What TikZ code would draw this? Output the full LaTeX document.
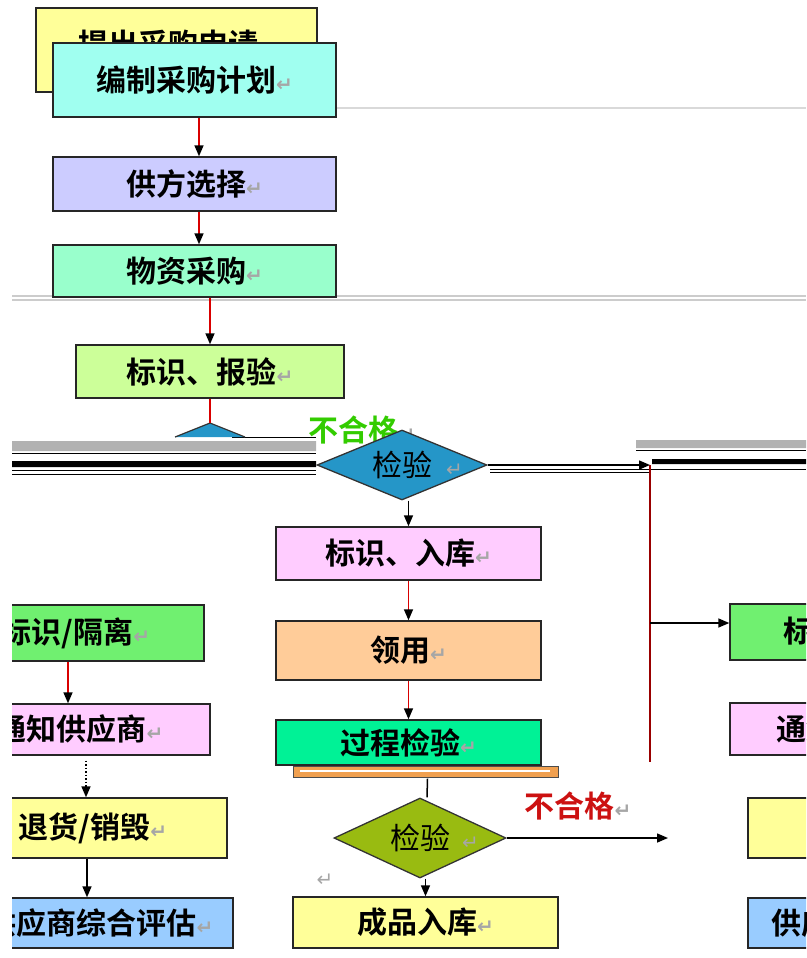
\documentclass[tikz,border=0pt]{standalone}
\usepackage{fontspec}
\newfontfamily\cjk{Noto Sans CJK SC}[BoldFont={Noto Sans CJK SC Bold}]
\newfontfamily\markfont{DejaVu Sans}
\usetikzlibrary{positioning,shapes.geometric,arrows.meta}

\definecolor{reqyellow}{HTML}{FFFF99}
\definecolor{planaqua}{HTML}{A0FFF0}
\definecolor{choosepurple}{HTML}{CCCCFF}
\definecolor{buymint}{HTML}{99FFCC}
\definecolor{reportgreen}{HTML}{CCFF99}
\definecolor{checkblue}{HTML}{2596C8}
\definecolor{stockpink}{HTML}{FFCCFF}
\definecolor{issuepeach}{HTML}{FFCC99}
\definecolor{processgreen}{HTML}{00F296}
\definecolor{recheckolive}{HTML}{99BB11}
\definecolor{isogreen}{HTML}{70F070}
\definecolor{assessblue}{HTML}{99CCFF}
\definecolor{failgreen}{HTML}{33CC00}
\definecolor{failred}{HTML}{CC1111}
\definecolor{striporange}{HTML}{F0A050}

\newcommand{\pmark}{{\markfont\fontsize{20}{20}\selectfont\color{gray!70}↵}}

\begin{document}
\begin{tikzpicture}
[x=1pt, y=-1pt,
box/.style={rectangle, draw=black!85, line width=1.4pt, inner sep=0pt,
  font=\cjk\bfseries\fontsize{30}{34}\selectfont},
chk/.style={diamond, draw=black!80, line width=1.3pt, inner sep=0pt, aspect=2.3,
  font=\cjk\fontsize{30}{34}\selectfont},
tag/.style={font=\cjk\bfseries\fontsize{30}{34}\selectfont, inner sep=0pt},
redline/.style={draw=red!85!black, line width=1.5pt},
redarrow/.style={redline, -{Triangle[length=11pt,width=9pt,black]}},
blackarrow/.style={draw=black, line width=1.5pt, -{Triangle[length=11pt,width=9pt]}}]

\useasboundingbox (0,0) rectangle (806,958);
\clip (12,0) rectangle (806,958);

% faint rules and the dark band
\draw[gray!30, line width=1.5pt] (336,108) -- (806,108);
\draw[gray!40, line width=1.2pt] (12,296) -- (806,296) (12,300) -- (806,300);
\fill[gray!60] (12,441) rectangle (316,451) (636,440) rectangle (806,448);
\fill[black] (12,461) rectangle (316,467) (652,459) rectangle (806,464);
\draw[black, line width=1pt] (12,453) -- (316,453) (12,470) -- (316,470)
  (12,474) -- (316,474) (232,437) -- (316,437)
  (636,450) -- (806,450) (490,469) -- (806,469) (490,472) -- (650,472);

% centre column
\node[box, fill=reqyellow, minimum width=281, text height=48pt, text depth=36pt] (request) at (176.5,50) {提出采购申请\pmark};
\node[box, fill=planaqua, minimum width=283, minimum height=74] (plan) at (194.5,80) {编制采购计划\pmark};
\node[box, fill=choosepurple, minimum width=283, minimum height=54] (supplier) at (194.5,184) {供方选择\pmark};
\node[box, fill=buymint, minimum width=283, minimum height=52] (purchase) at (194.5,271) {物资采购\pmark};
\node[box, fill=reportgreen, minimum width=268, minimum height=53] (report) at (210,371.5) {标识、报验\pmark};

\coordinate (tip) at (210,423);
\fill[checkblue] (tip) -- (245,437) -- (175,437) -- cycle;
\draw[black!80, line width=1.2pt] (175,437) -- (tip) -- (245,437);

\node[tag, text=failgreen] (fail1) at (362,430) {不合格\pmark};
\node[chk, fill=checkblue, minimum width=170, minimum height=70] (check) at (402,465) {检验\rlap{\hspace{14pt}\pmark}};
\node[box, fill=stockpink, minimum width=265, minimum height=53] (stock) at (408.5,553.5) {标识、入库\pmark};
\node[box, fill=issuepeach, minimum width=265, minimum height=59] (issue) at (408.5,650.5) {领用\pmark};
\fill[striporange, draw=black!70] (293,766) rectangle (558,777);
\draw[white, line width=2pt] (300,771) -- (550,771);
\node[box, fill=processgreen, minimum width=265, minimum height=45] (process) at (408.5,742.5) {过程检验\pmark};
\node[chk, fill=recheckolive, minimum width=172, minimum height=80] (recheck) at (420,838) {检验\rlap{\hspace{12pt}\pmark}};
\node[tag, text=failred] (fail2) at (578,806) {不合格\pmark};
\node[inner sep=0pt] (stray) at (325,880) {\pmark};
\node[box, fill=reqyellow, minimum width=265, minimum height=51] (product) at (425.5,922.5) {成品入库\pmark};

% left column
\node[box, fill=isogreen, minimum width=256, minimum height=56] (isolate) at (76,633) {标识/隔离\pmark};
\node[box, fill=stockpink, minimum width=260, minimum height=51] (notify) at (80,729.5) {通知供应商\pmark};
\node[box, fill=reqyellow, minimum width=268, minimum height=60] (reject) at (93,828) {退货/销毁\pmark};
\node[box, fill=assessblue, minimum width=266, minimum height=50] (assess) at (100,923) {供应商综合评估\pmark};

% right column
\node[box, fill=isogreen, minimum width=256, minimum height=56] (isolate2) at (858,632) {标识/隔离\pmark};
\node[box, fill=stockpink, minimum width=260, minimum height=52] (notify2) at (860,729) {通知供应商\pmark};
\node[box, fill=reqyellow, minimum width=268, minimum height=60] (reject2) at (882,828) {退货/销毁\pmark};
\node[box, fill=assessblue, minimum width=274, minimum height=50] (assess2) at (885,923) {供应商综合评估\pmark};

\coordinate (turn) at (650,465);
\coordinate (bottomend) at (650,762);
\coordinate (branch) at (650,623);
\coordinate (redend) at (668,838);

% connectors
\draw[redarrow] ([xshift=4.5pt]plan.south) -- ([xshift=4.5pt]supplier.north);
\draw[redarrow] ([xshift=4.5pt]supplier.south) -- ([xshift=4.5pt]purchase.north);
\draw[redarrow] (purchase.south -| report.north) -- (report.north);
\draw[redline] (report.south) -- (tip);
\draw[blackarrow] (check.east) -- (turn);
\draw[draw=red!60!black, line width=1.5pt] (turn) -- (bottomend);
\draw[blackarrow] (branch) -- (branch -| isolate2.west);
\draw[blackarrow] (check.south -| stock.north) -- (stock.north);
\draw[redarrow] (stock.south) -- (issue.north);
\draw[redarrow] (issue.south) -- (process.north);
\draw[black, line width=1.5pt] ([xshift=19pt,yshift=-13pt]process.south) -- ([xshift=7pt]recheck.north);
\draw[blackarrow] (recheck.east) -- (redend);
\draw[blackarrow] (recheck.south -| product.north) -- (product.north);
\draw[redarrow] ([xshift=-8pt]isolate.south) -- ([xshift=-8pt]isolate.south |- notify.north);
\draw[blackarrow, dotted] ([xshift=6pt,yshift=-5pt]notify.south) -- ([xshift=6pt]notify.south |- reject.north);
\draw[blackarrow] ([xshift=-6pt]reject.south) -- ([xshift=-6pt]reject.south |- assess.north);

\end{tikzpicture}
\end{document}
